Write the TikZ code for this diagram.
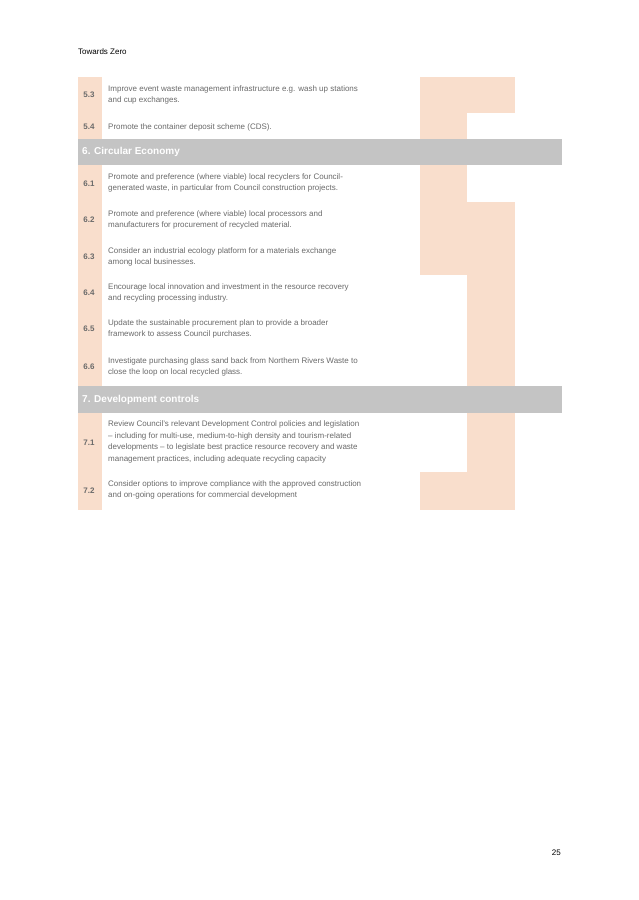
\documentclass[tikz,border=0pt]{standalone}
\usepackage{fontspec}
\setmainfont{Liberation Sans}
\definecolor{peach}{HTML}{F9DECC}
\definecolor{hdr}{HTML}{C4C4C4}
\definecolor{txt}{HTML}{6A6A6A}
\begin{document}
\begin{tikzpicture}[x=1pt,y=-1pt,
  num/.style={anchor=center,font=\fontsize{8}{10}\selectfont\bfseries,text=txt,inner sep=0},
  desc/.style={anchor=west,align=left,font=\fontsize{8}{11.5}\selectfont,text=txt,inner sep=0},
  hd/.style={anchor=west,font=\fontsize{10}{12}\selectfont\bfseries,text=white,inner sep=0}]
\useasboundingbox[fill=white] (0,0) rectangle (638,900);
\node[anchor=west,font=\fontsize{8}{10}\selectfont,inner sep=0] (title) at (78,52) {Towards Zero};
\node[anchor=east,font=\fontsize{8}{10}\selectfont,inner sep=0] (page) at (561,853) {25};
% number column
\fill[peach] (78,77) rectangle (102,139);
\fill[peach] (78,165) rectangle (102,386);
\fill[peach] (78,413) rectangle (102,510);
% column A
\fill[peach] (420,77) rectangle (467,139);
\fill[peach] (420,165) rectangle (467,275);
\fill[peach] (420,472) rectangle (467,510);
% column B
\fill[peach] (467,77) rectangle (515,113);
\fill[peach] (467,202) rectangle (515,386);
\fill[peach] (467,413) rectangle (515,510);
% headers
\fill[hdr] (78,139) rectangle (562,165);
\fill[hdr] (78,386) rectangle (562,413);
\node[hd] (h6) at (82,152) {6. Circular Economy};
\node[hd] (h7) at (82,400) {7. Development controls};
% rows
\node[num] (n53) at (89,95) {5.3};
\node[desc] (d53) at (108,95) {Improve event waste management infrastructure e.g. wash up stations\\and cup exchanges.};
\node[num] (n54) at (89,127) {5.4};
\node[desc] (d54) at (108,127) {Promote the container deposit scheme (CDS).};
\node[num] (n61) at (89,184) {6.1};
\node[desc] (d61) at (108,183) {Promote and preference (where viable) local recyclers for Council-\\generated waste, in particular from Council construction projects.};
\node[num] (n62) at (89,220) {6.2};
\node[desc] (d62) at (108,220) {Promote and preference (where viable) local processors and\\manufacturers for procurement of recycled material.};
\node[num] (n63) at (89,257) {6.3};
\node[desc] (d63) at (108,257) {Consider an industrial ecology platform for a materials exchange\\among local businesses.};
\node[num] (n64) at (89,293) {6.4};
\node[desc] (d64) at (108,293) {Encourage local innovation and investment in the resource recovery\\and recycling processing industry.};
\node[num] (n65) at (89,329) {6.5};
\node[desc] (d65) at (108,329) {Update the sustainable procurement plan to provide a broader\\framework to assess Council purchases.};
\node[num] (n66) at (89,367) {6.6};
\node[desc] (d66) at (108,367) {Investigate purchasing glass sand back from Northern Rivers Waste to\\close the loop on local recycled glass.};
\node[num] (n71) at (89,443) {7.1};
\node[desc] (d71) at (108,442) {Review Council's relevant Development Control policies and legislation\\– including for multi-use, medium-to-high density and tourism-related\\developments – to legislate best practice resource recovery and waste\\management practices, including adequate recycling capacity};
\node[num] (n72) at (89,491) {7.2};
\node[desc] (d72) at (108,490) {Consider options to improve compliance with the approved construction\\and on-going operations for commercial development};
\end{tikzpicture}
\end{document}
